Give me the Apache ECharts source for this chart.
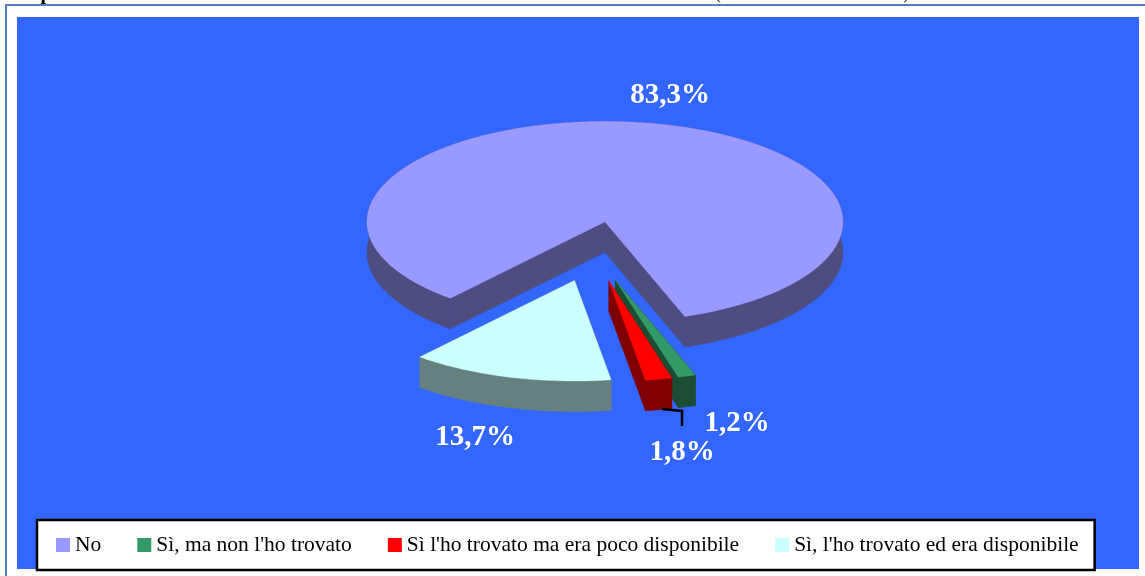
<!DOCTYPE html>
<html>
<head>
<meta charset="utf-8">
<style>
  html, body { margin: 0; padding: 0; background: #fff; }
  #pie3d { width: 1145px; height: 576px; }
</style>
<script src="https://cdn.jsdelivr.net/npm/echarts@6/dist/echarts.min.js"></script>
</head>
<body>
<div id="pie3d"></div>
<script>
// values, in clockwise order around the pie
var categories = ["No", "Sì, ma non l'ho trovato", "Sì l'ho trovato ma era poco disponibile", "Sì, l'ho trovato ed era disponibile"];
var percentages = [83.3, 1.2, 1.8, 13.7];

// colours for top face and wall of each slice
var topColors = ["#9999FF", "#339966", "#FF0000", "#CCFFFF"];
var wallColors = ["#4D4D80", "#1A4D33", "#800000", "#668080"];
// where each percent label sits
var labelSpots = [[670, 96], [737, 424], [682, 453], [475, 438]];
// small sideways nudge per slice, the source chart is not quite regular
var nudges = [-2, 0, 0, 0];

// the pie is an ellipse seen from above, so keep its projection here
var cx = 594, cy = 251.5, rx = 238, ry = 100.5, depth = 30.5, explode = 0.3, startAngle = 220.5;

var total = percentages.reduce(function (a, b) { return a + b; }, 0);

function slicePoints(index, from, to) {
  // from/to are degrees clockwise from the top of the pie
  var mid = (from + to) / 2 * Math.PI / 180;
  var ox = cx + nudges[index] + explode * rx * Math.sin(mid);
  var oy = cy - explode * ry * Math.cos(mid);
  var pts = [[ox, oy]];
  var steps = Math.max(2, Math.ceil(to - from));
  for (var i = 0; i <= steps; i++) {
    var a = (from + (to - from) * i / steps) * Math.PI / 180;
    pts.push([ox + rx * Math.sin(a), oy - ry * Math.cos(a)]);
  }
  return pts;
}

function wallPolygon(points, color) {
  // one band per wall, a band of many small quads shows seams
  var lower = points.map(function (p) { return [p[0], p[1] + depth]; }).reverse();
  return {
    type: "polygon",
    shape: { points: points.concat(lower) },
    style: { fill: color, stroke: color, lineWidth: 0.5 }
  };
}

function renderSlice(index, params, api) {
  var before = 0;
  for (var i = 0; i < index; i++) before += percentages[i];
  var value = api.value(0);
  var from = startAngle + before / total * 360;
  var to = from + value / total * 360;
  var pts = slicePoints(index, from, to);
  var color = wallColors[index];
  var children = [
    wallPolygon([pts[0], pts[1]], color),
    wallPolygon([pts[0], pts[pts.length - 1]], color),
    wallPolygon(pts.slice(1), color),
    {
      type: "polygon",
      shape: { points: pts },
      style: { fill: topColors[index], stroke: topColors[index], lineWidth: 0.4 }
    }
  ];
  // leader line of the red slice
  if (index === 2) {
    children.push({
      type: "polyline",
      shape: { points: [[662, 409], [682, 411], [682, 426]] },
      style: { fill: null, stroke: "#000", lineWidth: 2.5 }
    });
  }
  children.push({
    type: "text",
    style: {
      x: labelSpots[index][0],
      y: labelSpots[index][1],
      text: value.toFixed(1).replace(".", ",") + "%",
      fill: "#fff",
      font: "bold 29px 'Liberation Serif'",
      align: "center",
      verticalAlign: "middle"
    }
  });
  return { type: "group", children: children };
}

function makeSeries(index, z) {
  return {
    name: categories[index],
    type: "custom",
    coordinateSystem: "none",
    z: z,
    silent: true,
    animation: false,
    itemStyle: { color: topColors[index] },
    data: [[percentages[index]]],
    renderItem: function (params, api) { return renderSlice(index, params, api); }
  };
}

var option = {
  animation: false,
  backgroundColor: "#fff",
  legend: {
    left: 37,
    top: 520,
    orient: "horizontal",
    data: categories,
    icon: "rect",
    itemWidth: 14,
    itemHeight: 14,
    itemGap: 36,
    padding: [14, 16, 14, 19],
    backgroundColor: "#fff",
    borderColor: "#000",
    borderWidth: 2.5,
    borderRadius: 0,
    selectedMode: false,
    textStyle: { color: "#000", fontFamily: "Liberation Serif", fontSize: 21.5 }
  },
  graphic: [
    { type: "rect", z: -2, shape: { x: 6, y: 5, width: 1200, height: 640 }, style: { fill: "#fff", stroke: "#4F81BD", lineWidth: 2 } },
    { type: "rect", z: -1, shape: { x: 17, y: 17, width: 1122, height: 552 }, style: { fill: "#3366FF" } },
    // caption above the frame, cut off by the top of the page in the source
    { type: "text", z: -2, style: { x: 46, y: 4, text: "p", fill: "#000", font: "bold 20px 'Liberation Serif'", align: "center", verticalAlign: "bottom" } },
    { type: "text", z: -2, style: { x: 718, y: 3, text: "(", fill: "#000", font: "17px 'Liberation Serif'", align: "center", verticalAlign: "bottom" } },
    { type: "text", z: -2, style: { x: 906, y: 3, text: ")", fill: "#000", font: "17px 'Liberation Serif'", align: "center", verticalAlign: "bottom" } }
  ],
  // drawn back to front
  series: [makeSeries(0, 1), makeSeries(3, 2), makeSeries(1, 3), makeSeries(2, 4)]
};

var myChart = echarts.init(document.getElementById("pie3d"), null, { renderer: "canvas" });
myChart.setOption(option);
</script>
</body>
</html>
